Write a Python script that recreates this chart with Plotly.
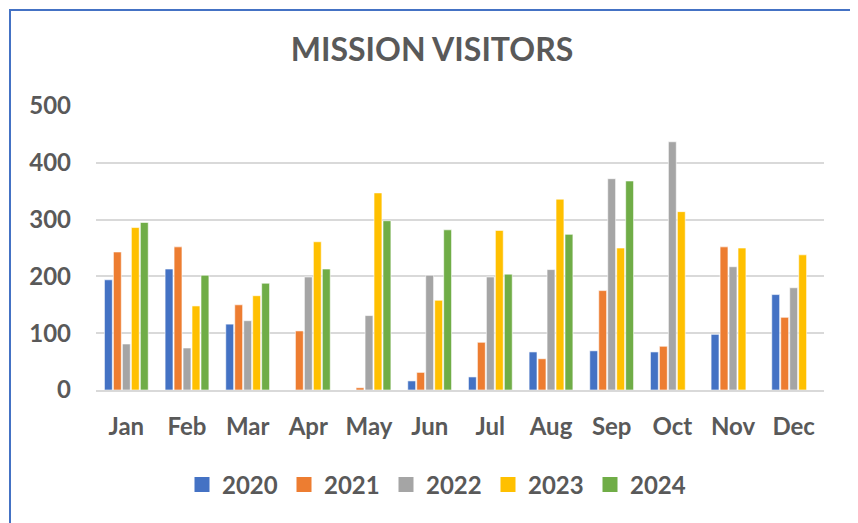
import plotly.graph_objects as go

months = ["Jan", "Feb", "Mar", "Apr", "May", "Jun", "Jul", "Aug", "Sep", "Oct", "Nov", "Dec"]
years = ["2020", "2021", "2022", "2023", "2024"]
v2020 = [194, 213, 116, None, None, 16, 23, 67, 69, 67, 98, 168]
v2021 = [243, 252, 150, 104, 4, 31, 84, 55, 175, 77, 252, 128]
v2022 = [81, 74, 122, 199, 131, 202, 199, 212, 372, 437, 217, 180]
v2023 = [286, 148, 166, 261, 347, 158, 281, 336, 250, 314, 250, 238]
v2024 = [295, 202, 188, 213, 298, 282, 204, 274, 368, None, None, None]
series = [v2020, v2021, v2022, v2023, v2024]
colors = ["#4472C4", "#ED7D31", "#A5A5A5", "#FFC000", "#70AD47"]
y_ticks = [0, 100, 200, 300, 400, 500]

FONT = "Lato, Carlito, 'Open Sans', sans-serif"
TXT = "#595959"

# page is offset by the default 8px body margin
OFF = 8
PL, PR, PT, PB = 96, 824, 106, 390  # desired plot-area edges in page pixels

fig = go.Figure()
for name, vals, c in zip(years, series, colors):
    fig.add_trace(go.Bar(
        x=months, y=vals, name=name, legendgroup=name, showlegend=False,
        marker=dict(color=c, line=dict(color="white", width=0.6)),
    ))
# legend entries with larger square swatches
for name, c in zip(years, colors):
    fig.add_trace(go.Scatter(
        x=[None], y=[None], name=name, legendgroup=name, mode="markers",
        marker=dict(symbol="square", size=15, color=c), showlegend=True,
    ))

W, H = 858, 523
fig.update_layout(
    width=W, height=H,
    margin=dict(l=PL - OFF, r=W - (PR - OFF), t=PT - OFF, b=H - (PB - OFF)),
    paper_bgcolor="white", plot_bgcolor="white",
    barmode="group", bargap=0.26, bargroupgap=0.12,
    title=dict(text="MISSION VISITORS", x=(432 - OFF) / W, xanchor="center",
               y=1 - (50 - OFF) / H, yanchor="middle",
               font=dict(family=FONT, size=32, color=TXT, weight="bold")),
    font=dict(family=FONT, color=TXT),
    legend=dict(orientation="h", x=(437 - PL) / (PR - PL), xanchor="center",
                y=(PB - 485) / (PB - PT), yanchor="middle",
                font=dict(family=FONT, size=24, color=TXT, weight="bold"),
                itemwidth=30, traceorder="normal",
                entrywidth=57, entrywidthmode="pixels"),
    xaxis=dict(showgrid=False, showline=True, linecolor="#D9D9D9", linewidth=2,
               ticks="", tickfont=dict(family=FONT, size=24, color=TXT, weight="bold"),
               ticklabelstandoff=14),
    yaxis=dict(range=[0, 500], tickvals=y_ticks, showgrid=True, gridcolor="#D9D9D9",
               gridwidth=1.6, zeroline=False, showline=False, ticks="",
               tickfont=dict(family=FONT, size=24, color=TXT, weight="bold"),
               ticklabelstandoff=24),
    shapes=[dict(type="rect", xref="paper", yref="paper",
                 x0=(10 - PL) / (PR - PL), x1=(854 - PL) / (PR - PL),
                 y0=(PB - 540) / (PB - PT), y1=(PB - 10) / (PB - PT),
                 line=dict(color="#4472C4", width=2), fillcolor="rgba(0,0,0,0)",
                 layer="below")],
)

fig.write_html("out.html")
